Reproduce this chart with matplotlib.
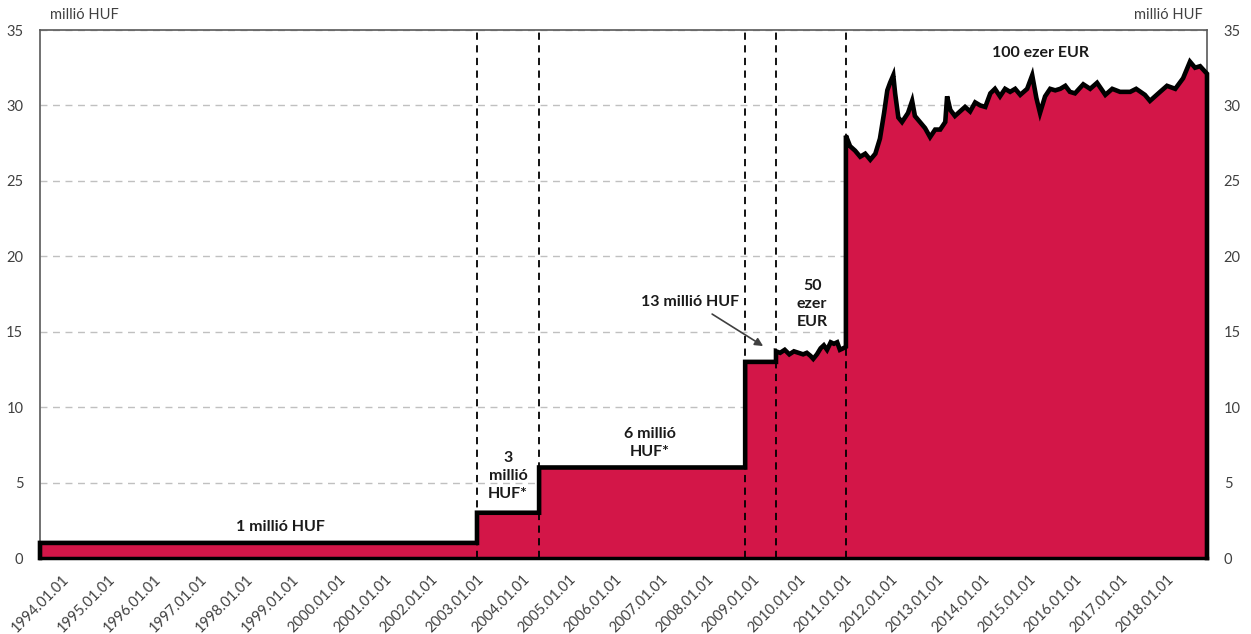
import matplotlib
matplotlib.use('Agg')
import matplotlib.pyplot as plt

plt.rcParams['font.family'] = ['Lato', 'DejaVu Sans']

# ---------------- data ----------------
# fixed HUF guarantee levels (million HUF) and the (decimal-year) date they started
step_years = [1993.41, 2002.91, 2004.26, 2008.74]
step_values = [1, 3, 6, 13]

# 50 000 EUR limit expressed in million HUF
eur50_years = [2009.41, 2009.50, 2009.60, 2009.70, 2009.80, 2009.90, 2010.00, 2010.08,
               2010.16, 2010.22, 2010.30, 2010.38, 2010.45, 2010.52, 2010.60, 2010.67,
               2010.74, 2010.80, 2010.87, 2010.93]
eur50_values = [13.7, 13.6, 13.8, 13.5, 13.7, 13.6, 13.5, 13.6,
                13.4, 13.2, 13.5, 13.9, 14.1, 13.8, 14.3, 14.2,
                14.3, 13.8, 13.9, 14.0]

# 100 000 EUR limit expressed in million HUF
eur100_years = [2010.93, 2011.02, 2011.13, 2011.24, 2011.35, 2011.46, 2011.57, 2011.67,
                2011.76, 2011.83, 2011.89, 2011.96, 2012.00, 2012.07, 2012.15, 2012.28,
                2012.37, 2012.43, 2012.54, 2012.65, 2012.76, 2012.87, 2012.98, 2013.09,
                2013.13, 2013.20, 2013.30, 2013.41, 2013.52, 2013.63, 2013.74, 2013.85,
                2013.96, 2014.07, 2014.17, 2014.28, 2014.39, 2014.50, 2014.61, 2014.72,
                2014.87, 2014.98, 2015.07, 2015.15, 2015.26, 2015.37, 2015.48, 2015.59,
                2015.70, 2015.80, 2015.91, 2016.09, 2016.24, 2016.39, 2016.57, 2016.72,
                2016.89, 2017.11, 2017.24, 2017.43, 2017.54, 2017.76, 2017.91, 2018.09,
                2018.26, 2018.41, 2018.52, 2018.63, 2018.78]
eur100_values = [28.0, 27.3, 27.0, 26.6, 26.8, 26.4, 26.8, 27.8,
                 29.5, 31.0, 31.5, 32.0, 30.8, 29.2, 28.9, 29.5,
                 30.3, 29.3, 28.9, 28.5, 27.9, 28.4, 28.4, 28.9,
                 30.6, 29.7, 29.3, 29.6, 29.9, 29.6, 30.2, 30.0,
                 29.9, 30.8, 31.1, 30.6, 31.1, 30.9, 31.1, 30.7,
                 31.1, 32.0, 30.5, 29.5, 30.6, 31.1, 31.0, 31.1,
                 31.3, 30.9, 30.8, 31.4, 31.1, 31.5, 30.7, 31.1,
                 30.9, 30.9, 31.1, 30.7, 30.3, 30.9, 31.3, 31.1,
                 31.8, 32.9, 32.5, 32.6, 32.1]

change_years = [2002.91, 2004.26, 2008.74, 2009.41, 2010.93]
tick_years = list(range(1994, 2019))
tick_labels = [f"{y}.01.01" for y in tick_years]
y_ticks = [0, 5, 10, 15, 20, 25, 30, 35]

# ---------------- build series ----------------
xs, ys = [], []
bounds = step_years[1:] + [eur50_years[0]]
for x0, x1, v in zip(step_years, bounds, step_values):
    xs += [x0, x1]
    ys += [v, v]
xs += eur50_years
ys += eur50_values
xs += eur100_years
ys += eur100_values

RED = '#D31648'

fig = plt.figure(figsize=(12.51, 6.34), dpi=100)
ax = fig.add_axes([40 / 1251, 1 - 558 / 634, (1207 - 40) / 1251, (558 - 30) / 634])

ax.set_xlim(xs[0], xs[-1])
ax.set_ylim(0, 35)

ax.set_axisbelow(True)
ax.yaxis.grid(True, linestyle=(0, (5, 4)), color='#C0C0C0', lw=1)

ax.fill_between(xs, ys, 0, color=RED, lw=0, zorder=2)
ax.plot([xs[0]] + xs + [xs[-1]], [0] + ys + [0], color='black', lw=3.3,
        solid_joinstyle='miter', zorder=4, clip_on=False)

for cx in change_years:
    ax.axvline(cx, color='black', lw=1.3, ls=(0, (4, 3)), zorder=3)

# axes styling
for side in ['left', 'top', 'right']:
    ax.spines[side].set_color('#595959')
    ax.spines[side].set_linewidth(1.2)
ax.spines['bottom'].set_color('black')
ax.spines['bottom'].set_linewidth(2.5)

ax.set_yticks(y_ticks)
ax.set_yticklabels([str(v) for v in y_ticks])
ax.tick_params(axis='y', length=0, labelsize=10.5, labelcolor='#404040',
               labelleft=True, labelright=True, pad=12)
ax.set_xticks(tick_years)
ax.set_xticklabels(tick_labels, rotation=45, ha='right', va='center',
                   rotation_mode='anchor')
ax.tick_params(axis='x', length=0, labelsize=10.5, labelcolor='#404040', pad=14)

# annotations
def yr(px):
    return 1994 + (px - 67) / 46.0

def val(py):
    return (558 - py) / 15.09

bold = dict(fontweight='bold', fontsize=11.5, color='#1a1a1a', ha='center', va='center',
            zorder=6)
ax.text(yr(280), val(527), '1 millió HUF', **bold)
ax.text(yr(508), val(476), '3\nmillió\nHUF*', linespacing=1.4, **bold)
ax.text(yr(650), val(443), '6 millió\nHUF*', linespacing=1.3, **bold)
ax.text(yr(690), val(302), '13 millió HUF', **bold)
ax.text(yr(812), val(304), '50\nezer\nEUR', linespacing=1.35, **bold)
ax.text(yr(1040), val(53), '100 ezer EUR', **bold)
ax.annotate('', xy=(yr(763), val(346)), xytext=(yr(712), val(314)),
            arrowprops=dict(arrowstyle='-|>', color='#404040', lw=1.2,
                            mutation_scale=12, shrinkA=0, shrinkB=0), zorder=6)

fig.text(50 / 1251, 1 - 15 / 634, 'millió HUF', ha='left', va='center',
         fontsize=10.5, color='#404040')
fig.text(1203 / 1251, 1 - 15 / 634, 'millió HUF', ha='right', va='center',
         fontsize=10.5, color='#404040')

fig.savefig('out.png', dpi=100)
